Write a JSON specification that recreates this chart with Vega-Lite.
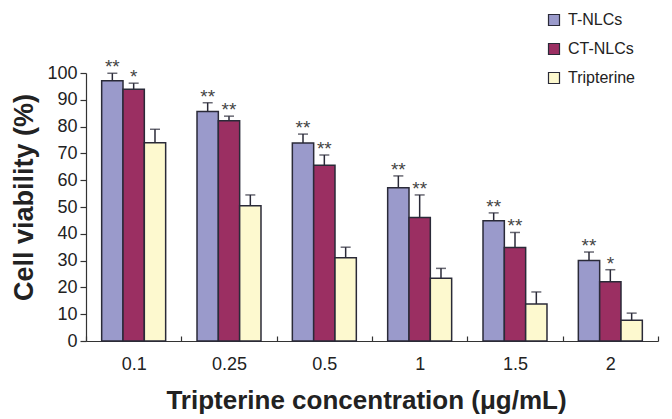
{
  "$schema": "https://vega.github.io/schema/vega-lite/v6.json",
  "width": 572,
  "height": 268,
  "autosize": {"type": "none"},
  "padding": {"left": 86, "top": 73, "right": 14, "bottom": 78},
  "background": "white",
  "config": {
    "view": {"stroke": null},
    "font": "Liberation Sans",
    "axis": {"grid": false, "domainColor": "#333", "tickColor": "#333", "labelColor": "#222", "titleColor": "#222", "labelFont": "Liberation Sans", "titleFont": "Liberation Sans"},
    "axisY": {"labelOverlap": false}
  },
  "data": {
    "values": [
      {"conc": "0.1", "series": "T-NLCs", "value": 97.1, "err": 2.8, "sig": "**"},
      {"conc": "0.1", "series": "CT-NLCs", "value": 93.9, "err": 2.3, "sig": "*"},
      {"conc": "0.1", "series": "Tripterine", "value": 74.0, "err": 5.0, "sig": ""},
      {"conc": "0.25", "series": "T-NLCs", "value": 85.6, "err": 3.3, "sig": "**"},
      {"conc": "0.25", "series": "CT-NLCs", "value": 82.2, "err": 1.7, "sig": "**"},
      {"conc": "0.25", "series": "Tripterine", "value": 50.5, "err": 4.0, "sig": ""},
      {"conc": "0.5", "series": "T-NLCs", "value": 73.9, "err": 3.3, "sig": "**"},
      {"conc": "0.5", "series": "CT-NLCs", "value": 65.6, "err": 3.8, "sig": "**"},
      {"conc": "0.5", "series": "Tripterine", "value": 31.1, "err": 3.9, "sig": ""},
      {"conc": "1", "series": "T-NLCs", "value": 57.2, "err": 4.4, "sig": "**"},
      {"conc": "1", "series": "CT-NLCs", "value": 46.1, "err": 8.4, "sig": "**"},
      {"conc": "1", "series": "Tripterine", "value": 23.4, "err": 3.7, "sig": ""},
      {"conc": "1.5", "series": "T-NLCs", "value": 44.9, "err": 2.9, "sig": "**"},
      {"conc": "1.5", "series": "CT-NLCs", "value": 34.9, "err": 5.6, "sig": "**"},
      {"conc": "1.5", "series": "Tripterine", "value": 13.8, "err": 4.5, "sig": ""},
      {"conc": "2", "series": "T-NLCs", "value": 30.0, "err": 3.2, "sig": "**"},
      {"conc": "2", "series": "CT-NLCs", "value": 22.1, "err": 4.5, "sig": "*"},
      {"conc": "2", "series": "Tripterine", "value": 7.7, "err": 2.7, "sig": ""}
    ]
  },
  "transform": [{"calculate": "datum.value + datum.err", "as": "upper"}],
  "encoding": {
    "x": {
      "field": "conc", "type": "nominal", "sort": ["0.1", "0.25", "0.5", "1", "1.5", "2"],
      "scale": {"paddingInner": 0, "paddingOuter": 0},
      "axis": {
        "title": "Tripterine concentration (μg/mL)", "titleFontSize": 26, "titleFontWeight": "bold",
        "titleX": 280, "titleY": 67, "titleBaseline": "alphabetic",
        "labelAngle": 0, "labelFontSize": 18, "labelPadding": 19, "tickBand": "extent", "tickSize": -5,
        "domainWidth": 1.2, "tickWidth": 1.2
      }
    },
    "xOffset": {
      "field": "series", "type": "nominal", "sort": ["T-NLCs", "CT-NLCs", "Tripterine"],
      "scale": {"paddingInner": 0, "paddingOuter": 0.735}
    }
  },
  "layer": [
    {
      "mark": {"type": "bar", "stroke": "#2a2a38", "strokeWidth": 1.5},
      "encoding": {
        "y": {
          "field": "value", "type": "quantitative", "scale": {"domain": [0, 100], "nice": false},
          "axis": {
            "title": "Cell viability (%)", "titleFontSize": 27, "titleFontWeight": "bold",
            "titleX": -62, "titleY": 124, "titleAngle": -90, "titleBaseline": "middle", "titleAlign": "center",
            "values": [0, 10, 20, 30, 40, 50, 60, 70, 80, 90, 100], "labelOverlap": false,
            "labelFontSize": 18, "labelPadding": 3, "tickSize": 6, "domainWidth": 1.2, "tickWidth": 1.2
          }
        },
        "color": {
          "field": "series", "type": "nominal", "sort": ["T-NLCs", "CT-NLCs", "Tripterine"],
          "scale": {"domain": ["T-NLCs", "CT-NLCs", "Tripterine"], "range": ["#9a9acb", "#9b2f62", "#fdf9cf"]},
          "legend": {
            "title": null, "orient": "none", "legendX": 460, "legendY": -61,
            "symbolType": "square", "symbolSize": 121, "symbolStrokeColor": "#2a2a38", "symbolStrokeWidth": 1.2,
            "labelFontSize": 16, "labelColor": "#222", "labelOffset": 6, "rowPadding": 13
          }
        }
      }
    },
    {
      "mark": {"type": "rule", "color": "#2a2a38", "strokeWidth": 1.5},
      "encoding": {
        "y": {"field": "value", "type": "quantitative", "axis": {"values": [0, 10, 20, 30, 40, 50, 60, 70, 80, 90, 100], "labelOverlap": false}},
        "y2": {"field": "upper"}
      }
    },
    {
      "mark": {"type": "tick", "color": "#2a2a38", "size": 10, "thickness": 1.5},
      "encoding": {
        "y": {"field": "upper", "type": "quantitative", "axis": {"values": [0, 10, 20, 30, 40, 50, 60, 70, 80, 90, 100], "labelOverlap": false}}
      }
    },
    {
      "mark": {"type": "text", "fontSize": 19, "color": "#444", "baseline": "alphabetic", "dy": 0},
      "encoding": {
        "y": {"field": "upper", "type": "quantitative", "axis": {"values": [0, 10, 20, 30, 40, 50, 60, 70, 80, 90, 100], "labelOverlap": false}},
        "text": {"field": "sig"}
      }
    }
  ]
}
